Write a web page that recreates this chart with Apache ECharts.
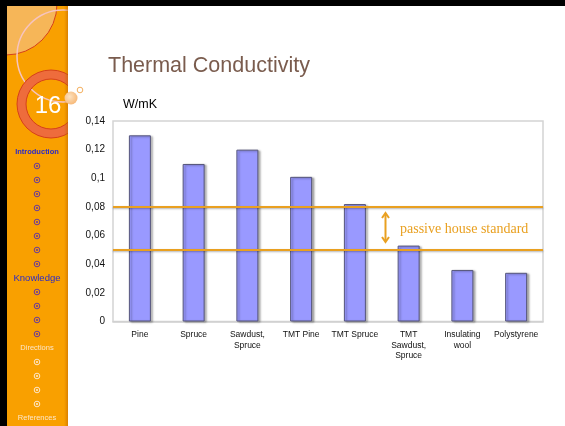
<html>
    <head>
        <meta charset="utf-8">
        <script src="https://cdn.jsdelivr.net/npm/echarts@6/dist/echarts.min.js"></script>
        <style>
            html, body { margin: 0; padding: 0; background: #fff; }
            #main { width: 565px; height: 426px; }
        </style>
    </head>
    <body>
        <div id="main"></div>
        <script>
            var materials = ['Pine', 'Spruce', 'Sawdust,\nSpruce', 'TMT Pine', 'TMT Spruce',
                'TMT\nSawdust,\nSpruce', 'Insulating\nwool', 'Polystyrene'];
            var conductivity = [0.130, 0.110, 0.120, 0.101, 0.082, 0.053, 0.036, 0.034];
            var passiveLimits = [0.0795, 0.0514];

            var introItems = 8, knowledgeItems = 4, directionItems = 4;

            var orange = '#e9a020';

            function bullet(y, color) {
                return [
                    {type: 'circle', shape: {cx: 37, cy: y, r: 2.8}, style: {fill: 'none', stroke: color, lineWidth: 1}},
                    {type: 'circle', shape: {cx: 37, cy: y, r: 1.1}, style: {fill: color}}
                ];
            }

            var side = [];
            // sidebar and its decoration
            side.push({type: 'rect', shape: {x: 7, y: 6, width: 61, height: 420}, style: {fill: '#f9a000'}});
            side.push({type: 'circle', shape: {cx: 6, cy: 4, r: 51}, style: {fill: '#f6b658', stroke: '#d6401a', lineWidth: 1}});
            side.push({type: 'circle', shape: {cx: 63, cy: 56, r: 46}, style: {fill: 'none', stroke: '#f6c4c0', lineWidth: 1.5}});
            side.push({type: 'ring', shape: {cx: 51, cy: 104, r: 34, r0: 25},
                style: {fill: '#ee6c3c', stroke: '#d6401a', lineWidth: 1}});
            // hide what spills past the sidebar
            side.push({type: 'rect', shape: {x: 68, y: 6, width: 44, height: 112}, style: {fill: '#fff'}});
            side.push({type: 'rect', shape: {x: 68, y: 117, width: 16, height: 24}, style: {fill: '#fff'}});
            side.push({type: 'rect', shape: {x: 64, y: 6, width: 4, height: 420},
                style: {fill: new echarts.graphic.LinearGradient(0, 0, 1, 0, [
                    {offset: 0, color: 'rgba(200,110,0,0)'}, {offset: 1, color: 'rgba(190,100,0,0.55)'}])}});
            side.push({type: 'circle', shape: {cx: 71, cy: 98, r: 6.5},
                style: {fill: new echarts.graphic.RadialGradient(0.4, 0.4, 0.7, [
                    {offset: 0, color: '#fde2c0'}, {offset: 1, color: '#f6b470'}])}});
            side.push({type: 'circle', shape: {cx: 80, cy: 90, r: 2.8}, style: {fill: '#fff', stroke: '#f4b060', lineWidth: 1}});
            side.push({type: 'text', style: {x: 48, y: 106, text: '16', fill: '#fff', font: '24px Liberation Sans', align: 'center', verticalAlign: 'middle'}});
            // frame
            side.push({type: 'rect', shape: {x: 0, y: 0, width: 565, height: 6}, style: {fill: '#000'}});
            side.push({type: 'rect', shape: {x: 0, y: 0, width: 7, height: 426}, style: {fill: '#000'}});

            // menu
            var y = 152;
            side.push({type: 'text', style: {x: 37, y: y, text: 'Introduction', fill: '#2a2ac8', font: 'bold 7.5px Liberation Sans', align: 'center', verticalAlign: 'middle'}});
            for (var i = 0; i < introItems; i++) { y += 14; side = side.concat(bullet(y, '#6a3a9a')); }
            y += 14;
            side.push({type: 'text', style: {x: 37, y: y, text: 'Knowledge', fill: '#2a2ac8', font: '9.5px Liberation Sans', align: 'center', verticalAlign: 'middle'}});
            for (var i = 0; i < knowledgeItems; i++) { y += 14; side = side.concat(bullet(y, '#6a3a9a')); }
            y += 14;
            side.push({type: 'text', style: {x: 37, y: y, text: 'Directions', fill: '#fde6c8', font: '7.5px Liberation Sans', align: 'center', verticalAlign: 'middle'}});
            for (var i = 0; i < directionItems; i++) { y += 14; side = side.concat(bullet(y, '#fde6c8')); }
            y += 14;
            side.push({type: 'text', style: {x: 37, y: y, text: 'References', fill: '#fde6c8', font: '7.5px Liberation Sans', align: 'center', verticalAlign: 'middle'}});

            // titles
            side.push({type: 'text', style: {x: 108, y: 66, text: 'Thermal Conductivity', fill: '#7a5c4e',
                font: '21.5px Liberation Sans', verticalAlign: 'middle',
                shadowColor: 'rgba(0,0,0,0.35)', shadowBlur: 3, shadowOffsetX: 1, shadowOffsetY: 2}});
            side.push({type: 'text', style: {x: 123, y: 105, text: 'W/mK', fill: '#000', font: '12.5px Liberation Sans', verticalAlign: 'middle'}});

            // annotation
            var ax = 385.5, ay1 = 213, ay2 = 242;
            side.push({type: 'line', z: 10, shape: {x1: ax, y1: ay1 + 1, x2: ax, y2: ay2 - 1}, style: {stroke: orange, lineWidth: 2}});
            side.push({type: 'polyline', z: 10, shape: {points: [[ax - 3.5, ay1 + 5], [ax, ay1], [ax + 3.5, ay1 + 5]]}, style: {stroke: orange, lineWidth: 2, fill: 'none'}});
            side.push({type: 'polyline', z: 10, shape: {points: [[ax - 3.5, ay2 - 5], [ax, ay2], [ax + 3.5, ay2 - 5]]}, style: {stroke: orange, lineWidth: 2, fill: 'none'}});
            side.push({type: 'text', z: 10, style: {x: 400, y: 229, text: 'passive house standard', fill: orange,
                font: '14px Liberation Serif', verticalAlign: 'middle'}});

            var chart = echarts.init(document.getElementById('main'));
            chart.setOption({
                animation: false,
                backgroundColor: '#fff',
                graphic: side,
                grid: {
                    left: 113, top: 121, right: 22, bottom: 104.5,
                    show: true, borderColor: '#d4d4d4', borderWidth: 1.5
                },
                xAxis: {
                    type: 'category',
                    data: materials,
                    axisLine: {lineStyle: {color: '#cfcfcf', width: 1.5}},
                    axisTick: {length: 3, lineStyle: {color: '#dddddd'}},
                    axisLabel: {color: '#111', fontSize: 8.5, lineHeight: 10.5, margin: 8,
                        fontFamily: 'Liberation Sans', interval: 0}
                },
                yAxis: {
                    type: 'value',
                    min: 0, max: 0.14, interval: 0.02,
                    splitLine: {show: false},
                    axisLine: {show: false},
                    axisTick: {show: false},
                    axisLabel: {color: '#111', fontSize: 10, margin: 8, fontFamily: 'Liberation Sans',
                        formatter: function (v) { return String(+v.toFixed(2)).replace('.', ','); }}
                },
                series: [{
                    type: 'bar',
                    data: conductivity,
                    barWidth: 22,
                    itemStyle: {
                        color: '#9999ff', borderColor: '#55557a', borderWidth: 1,
                        shadowColor: 'rgba(0,0,0,0.3)', shadowBlur: 2, shadowOffsetX: 2, shadowOffsetY: 1
                    },
                    markLine: {
                        silent: true,
                        symbol: 'none',
                        label: {show: false},
                        lineStyle: {color: orange, width: 2, type: 'solid',
                            shadowColor: 'rgba(0,0,0,0.3)', shadowBlur: 2, shadowOffsetY: 1},
                        data: passiveLimits.map(function (v) { return {yAxis: v}; })
                    }
                }]
            });
        </script>
    </body>
</html>
